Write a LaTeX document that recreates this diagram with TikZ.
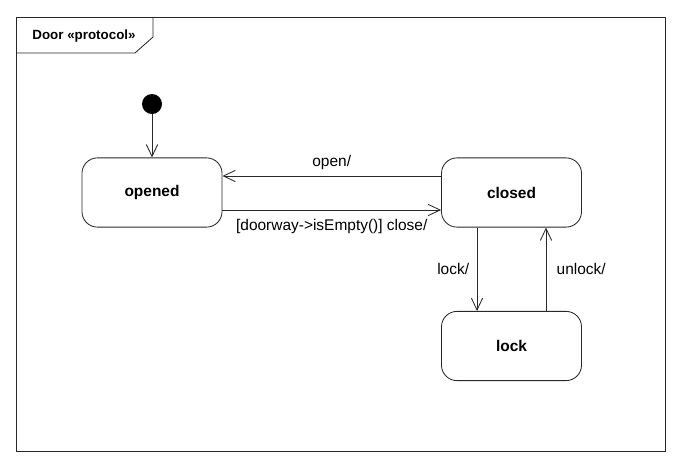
\documentclass[tikz,border=0pt]{standalone}
\usepackage{fontspec}
\setmainfont{Liberation Sans}
\usepackage{tikz}
\usetikzlibrary{positioning, calc, arrows.meta}
\definecolor{edge}{RGB}{40,40,40}

\begin{document}
\begin{tikzpicture}[x=0.025cm, y=-0.025cm, line width=0.6pt,
    font=\fontsize{11}{13}\selectfont,
    state/.style={draw=edge, rounded corners=11pt, minimum width=3.5cm, minimum height=1.73cm, font=\fontsize{11}{13}\selectfont\bfseries},
    trans/.style={draw=edge, -{Straight Barb[length=8.5pt, width=8pt]}},
    initial/.style={circle, fill=black, inner sep=0pt, minimum size=0.5cm}]
    \useasboundingbox (0,0) rectangle (685,469);
    % frame with name tab
    \draw[edge] (16,17) rectangle (665,451);
    \draw[edge] (16,53) -- (135,53) -- (153,37) -- (153,17);
    \node[font=\fontsize{9.5}{11}\selectfont\bfseries] (title) at (84,36) {Door «protocol»};

    \node[initial] (init) at (152,104) {};
    \node[state] (opened) at (152,192.5) {opened};
    \node[state] (closed) at (511.5,192.5) {closed};
    \node[state] (lock) at (511.5,346) {lock};

    \draw[trans] (init) -- (opened);
    \draw[trans] ($(closed.west)+(0,-16.5)$) -- node[above=1pt] {open/} ($(opened.east)+(0,-16.5)$);
    \draw[trans] ($(opened.east)+(0,17.5)$) -- node[below=3pt] {[doorway->isEmpty()] close/} ($(closed.west)+(0,17.5)$);
    \draw[trans] ($(closed.south)+(-34.5,0)$) -- node[left=2pt] {lock/} ($(lock.north)+(-34.5,0)$);
    \draw[trans] ($(lock.north)+(34.5,0)$) -- node[right=4pt] {unlock/} ($(closed.south)+(34.5,0)$);
\end{tikzpicture}
\end{document}
